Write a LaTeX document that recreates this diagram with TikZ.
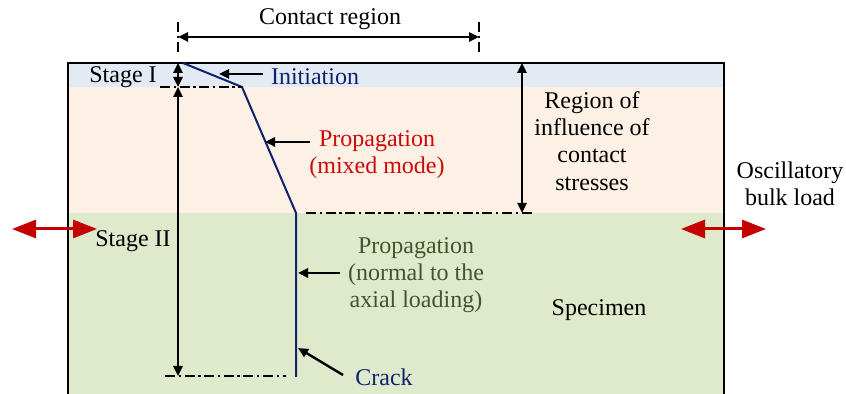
\documentclass[tikz,border=0pt]{standalone}
\usepackage{fontspec}
\setmainfont{Liberation Serif}
\usepackage{tikz}
\usetikzlibrary{arrows.meta,calc,positioning}
\definecolor{bandblue}{RGB}{227,234,244}
\definecolor{bandpeach}{RGB}{253,240,229}
\definecolor{bandgreen}{RGB}{223,233,204}
\definecolor{cracknavy}{RGB}{16,36,110}
\definecolor{mixedred}{RGB}{205,10,10}
\definecolor{normalolive}{RGB}{70,84,44}
\definecolor{loadred}{RGB}{196,0,0}

\tikzset{
  lbl/.style={font=\fontsize{12}{13.6}\selectfont,align=center,inner sep=1pt},
  dim/.style={<->,line width=1.2pt},
  ptr/.style={->,line width=1.2pt},
  dashdot/.style={line width=.65pt,dash pattern=on 5pt off 1.8pt on 1.2pt off 1.8pt},
  load/.style={{Triangle[length=12pt,width=9pt]}-{Triangle[length=12pt,width=9pt]},
    loadred,line width=1.5pt}
}

\begin{document}
\begin{tikzpicture}[x=0.5pt,y=-0.5pt,>={Triangle[length=5pt,width=4.5pt]},line cap=butt]
 \useasboundingbox (0,0) rectangle (846,394);
 % specimen bands
 \fill[bandblue] (68,63) rectangle (724,87);
 \fill[bandpeach] (68,87) rectangle (724,213);
 \fill[bandgreen] (68,213) rectangle (724,396);
 \draw[line width=1.1pt] (68,396) -- (68,63) -- (724,63) -- (724,396);

 % crack path
 \coordinate (c0) at (183,63);
 \coordinate (c1) at (242,87);
 \coordinate (c2) at (296,213);
 \coordinate (c3) at (296,377);
 \draw[cracknavy,line width=1pt,line join=round] (c0) -- (c1) -- (c2) -- (c3);

 % contact region
 \coordinate (cl) at (178,37);
 \coordinate (cr) at (479,37);
 \draw[dashdot] (178,22) -- (178,55);
 \draw[dashdot] (479,22) -- (479,55);
 \draw[dim] (cl) -- (cr);
 \node[lbl] (contact) at (330,19) {Contact region};

 % stages
 \coordinate (s0) at (178,63);
 \coordinate (s1) at (178,87);
 \coordinate (s2) at (178,376);
 \draw[dashdot] (160,87) -- (c1);
 \draw[dashdot] (165,376) -- (286,376);
 \draw[dim] (s0) -- (s1);
 \draw[dim] (s1) -- (s2);
 \node[lbl] (stageI) at (123,77) {Stage I};
 \node[lbl] (stageII) at (133,241) {Stage II};

 % region of influence
 \coordinate (r0) at (522,63);
 \coordinate (r1) at (522,213);
 \draw[dashdot] (306,213) -- (534,213);
 \draw[dim] (r0) -- (r1);
 \node[lbl] (region) at (592,141) {Region of\\influence of\\contact\\stresses};

 % labels on the crack
 \node[lbl,text=cracknavy] (init) at (315,77) {Initiation};
 \coordinate (initp) at (219,74);
 \draw[ptr] (263,74) -- (initp);

 \node[lbl,text=mixedred] (mixed) at (377,155) {Propagation\\(mixed mode)};
 \coordinate (mixedp) at (265,142);
 \draw[ptr] (310,142) -- (mixedp);

 \node[lbl,text=normalolive] (normal) at (416,275) {Propagation\\(normal to the\\axial loading)};
 \coordinate (normalp) at (298,273);
 \draw[ptr] (340,273) -- (normalp);

 \node[lbl,text=cracknavy] (crack) at (384,377) {Crack};
 \coordinate (crackp) at (298,348);
 \draw[ptr] (343,375) -- (crackp);

 \node[lbl] (specimen) at (599,310) {Specimen};

 % bulk load
 \node[lbl] (bulk) at (790,184) {Oscillatory\\bulk load};
 \coordinate (la) at (12,229);
 \coordinate (lb) at (97,229);
 \coordinate (ra) at (681,229);
 \coordinate (rb) at (766,229);
 \draw[load] (la) -- (lb);
 \draw[load] (ra) -- (rb);
\end{tikzpicture}
\end{document}
